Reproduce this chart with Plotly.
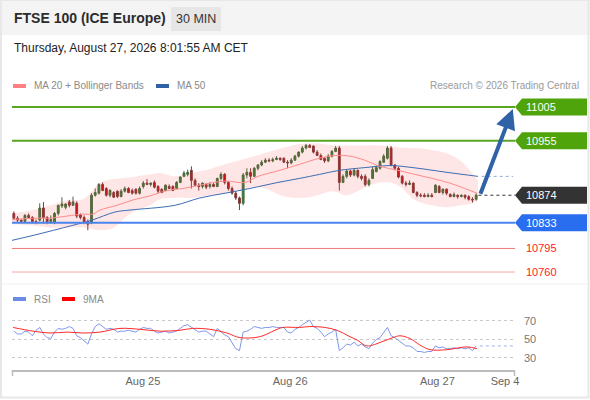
import plotly.graph_objects as go

# 30 min candles, index 0 = first bar on screen
opens = [10847, 10840, 10837, 10835, 10844, 10841, 10835, 10837, 10855, 10841,
         10835, 10834, 10847, 10858, 10856, 10864, 10859, 10862, 10845, 10841,
         10835, 10834, 10874, 10877, 10890, 10884, 10874, 10878, 10880, 10872,
         10880, 10884, 10881, 10883, 10877, 10887, 10892, 10890, 10893, 10887,
         10883, 10881, 10887, 10887, 10884, 10893, 10902, 10905, 10911, 10896,
         10889, 10887, 10890, 10887, 10890, 10887, 10899, 10905, 10893, 10884,
         10877, 10870, 10862, 10904, 10908, 10902, 10914, 10919, 10923, 10926,
         10925, 10927, 10929, 10929, 10923, 10922, 10926, 10932, 10938, 10944,
         10948, 10947, 10938, 10933, 10929, 10925, 10932, 10939, 10944, 10893,
         10902, 10910, 10904, 10911, 10902, 10902, 10890, 10899, 10909, 10914,
         10923, 10929, 10944, 10919, 10914, 10902, 10892, 10890, 10892, 10878,
         10874, 10874, 10872, 10874, 10878, 10887, 10878, 10883, 10875, 10872,
         10874, 10872, 10874, 10872, 10868, 10868]
highs = [10850, 10843, 10838, 10846, 10847, 10843, 10838, 10862, 10864, 10843,
         10844, 10849, 10860, 10871, 10862, 10867, 10872, 10865, 10847, 10844,
         10838, 10877, 10884, 10892, 10893, 10886, 10883, 10880, 10881, 10883,
         10887, 10886, 10884, 10884, 10887, 10895, 10898, 10893, 10896, 10889,
         10884, 10890, 10890, 10889, 10895, 10902, 10910, 10912, 10917, 10899,
         10892, 10893, 10892, 10893, 10892, 10900, 10908, 10907, 10895, 10887,
         10880, 10872, 10907, 10914, 10914, 10916, 10920, 10926, 10929, 10929,
         10930, 10932, 10930, 10930, 10926, 10929, 10934, 10939, 10947, 10950,
         10950, 10948, 10941, 10936, 10930, 10935, 10941, 10947, 10947, 10905,
         10912, 10912, 10914, 10912, 10905, 10905, 10899, 10916, 10918, 10926,
         10935, 10947, 10947, 10920, 10916, 10904, 10895, 10896, 10893, 10880,
         10877, 10877, 10877, 10877, 10890, 10889, 10884, 10884, 10877, 10878,
         10875, 10875, 10875, 10874, 10871, 10877]
lows = [10837, 10834, 10834, 10834, 10840, 10832, 10831, 10835, 10832, 10831,
        10832, 10831, 10844, 10855, 10853, 10856, 10858, 10840, 10838, 10831,
        10822, 10831, 10872, 10875, 10880, 10872, 10871, 10870, 10870, 10871,
        10878, 10877, 10875, 10875, 10875, 10884, 10889, 10887, 10884, 10877,
        10877, 10880, 10883, 10880, 10883, 10892, 10901, 10902, 10884, 10887,
        10881, 10884, 10883, 10884, 10886, 10886, 10896, 10890, 10881, 10875,
        10867, 10852, 10859, 10899, 10892, 10901, 10911, 10917, 10922, 10923,
        10923, 10926, 10925, 10922, 10914, 10920, 10925, 10930, 10936, 10942,
        10944, 10936, 10932, 10926, 10922, 10923, 10930, 10938, 10881, 10892,
        10899, 10901, 10902, 10899, 10896, 10887, 10887, 10898, 10908, 10912,
        10922, 10927, 10917, 10911, 10899, 10890, 10887, 10889, 10877, 10871,
        10871, 10871, 10871, 10871, 10877, 10877, 10875, 10874, 10871, 10871,
        10869, 10871, 10868, 10866, 10863, 10866]
closes = [10840, 10837, 10835, 10844, 10841, 10835, 10834, 10855, 10841, 10834,
          10838, 10847, 10859, 10861, 10861, 10859, 10864, 10843, 10841, 10834,
          10831, 10874, 10878, 10890, 10881, 10874, 10881, 10871, 10872, 10880,
          10884, 10878, 10877, 10877, 10884, 10892, 10890, 10892, 10886, 10880,
          10878, 10889, 10884, 10881, 10893, 10901, 10907, 10908, 10896, 10889,
          10887, 10892, 10886, 10890, 10887, 10899, 10905, 10893, 10884, 10877,
          10870, 10862, 10904, 10908, 10902, 10914, 10919, 10923, 10926, 10925,
          10927, 10929, 10927, 10923, 10922, 10926, 10932, 10938, 10944, 10948,
          10945, 10938, 10933, 10927, 10925, 10932, 10939, 10944, 10893, 10902,
          10910, 10904, 10911, 10902, 10899, 10890, 10896, 10912, 10915, 10924,
          10932, 10944, 10919, 10914, 10901, 10892, 10890, 10892, 10878, 10874,
          10873, 10872, 10874, 10872, 10889, 10878, 10883, 10877, 10872, 10875,
          10872, 10874, 10871, 10868, 10867, 10874]
bars = list(range(len(closes)))

# Bollinger bands (sampled along the bar index)
band_x = [-0.5, 5.2, 9.8, 14.4, 18.7, 23.3, 26.8, 28.7, 32.2, 36.8, 39.5, 43.5, 47.6,
          51.7, 56.5, 61.1, 65.7, 69.2, 72.7, 77.3, 81.4, 86.3, 90.0, 94.4, 98.1,
          101.7, 104.4, 108.4, 113.0, 117.1, 120.6, 123.3, 125.5]
band_upper = [10847, 10852, 10859, 10867, 10868, 10892, 10898, 10899, 10901, 10905, 10907,
              10902, 10907, 10911, 10919, 10926, 10933, 10939, 10944, 10950, 10951, 10948,
              10948, 10948, 10948, 10947, 10945, 10944, 10941, 10936, 10926, 10911, 10896]
band_lower = [10831, 10829, 10826, 10826, 10826, 10822, 10825, 10834, 10849, 10859, 10868,
              10870, 10870, 10873, 10877, 10881, 10887, 10881, 10873, 10870, 10873, 10880,
              10874, 10884, 10892, 10893, 10887, 10867, 10859, 10856, 10859, 10861, 10867]

ma20_x = [-0.5, 6.5, 9.8, 18.7, 21.4, 23.3, 27.9, 32.2, 36.8, 41.4, 45.7, 50.3, 57.1,
          62.5, 66.0, 71.9, 77.3, 82.7, 86.8, 90.9, 94.9, 98.9, 103.8, 108.4, 113.0,
          117.9, 121.9, 125.2]
ma20 = [10838, 10840, 10840, 10846, 10846, 10852, 10859, 10867, 10873, 10881, 10884,
        10889, 10895, 10893, 10902, 10911, 10920, 10929, 10933, 10932, 10926, 10917,
        10911, 10905, 10899, 10892, 10884, 10877]

ma50_x = [-0.5, 5.7, 15.7, 21.1, 27.3, 31.4, 43.5, 50.3, 57.1, 63.8, 71.4, 77.3, 82.7,
          88.1, 94.9, 101.7, 107.9, 117.1, 125.5]
ma50 = [10807, 10815, 10829, 10837, 10849, 10852, 10859, 10870, 10877, 10884, 10893,
        10899, 10905, 10911, 10915, 10918, 10915, 10908, 10902]

# RSI panel
rsi = [59, 56, 56, 59, 58, 54, 60, 63, 56, 52, 51, 58, 62, 61, 62, 64, 62, 54, 52, 49,
       45, 56, 64, 67, 64, 61, 62, 61, 58, 59, 59, 60, 59, 58, 61, 63, 62, 62, 59, 57,
       58, 59, 57, 58, 59, 62, 65, 66, 63, 60, 58, 59, 59, 56, 53, 62, 58, 55, 53, 47,
       40, 38, 58, 59, 61, 64, 63, 62, 63, 63, 64, 63, 63, 63, 58, 57, 61, 63, 66, 69,
       71, 64, 62, 58, 53, 56, 58, 61, 38, 41, 45, 44, 47, 43, 45, 42, 40, 46, 50, 52,
       57, 63, 54, 52, 49, 46, 43, 43, 41, 37, 37, 36, 37, 37, 43, 41, 42, 40, 40, 41,
       40, 41, 40, 41, 38, 43]
ma9_x = [-0.2, 5.2, 9.8, 14.4, 18.7, 23.3, 28.7, 34.1, 39.5, 44.9, 48.4, 53.0, 57.6,
         61.1, 66.5, 70.6, 72.7, 77.3, 80.0, 84.1, 87.3, 90.9, 93.0, 95.4, 99.8, 102.5,
         104.4, 107.1, 109.8, 112.5, 117.1, 122.5, 125.2]
ma9 = [63, 59, 57, 58, 57, 58, 62, 61, 59, 60, 62, 61, 57, 52, 53, 60, 63, 63, 64, 63,
       60, 53, 49, 43, 48, 52, 54, 51, 44, 39, 39, 42, 40]

# key levels
resistances = [11005, 10955]
supports = [10833]
pivot = 10874
extra_levels = [10795, 10760]

tick_pos = [34.9, 74.7, 114.5, 132.8]
tick_text = ["Aug 25", "Aug 26", "Aug 27", "Sep 4"]

W, H = 590, 400
L, R = 12, 515
PRICE_TOP, PRICE_BOTTOM = 95, 283
RSI_TOP, RSI_BOTTOM = 300, 370
PRICE_RANGE = [10743.7, 11022.8]
RSI_RANGE = [17.0, 92.7]

GREEN = "#4ea40a"
BLUE = "#2a6ef0"
RED = "#ff1a1a"
GREY = "#8a8a8a"
FONT = "Liberation Sans, Arial, sans-serif"


def px(x):
    return (x - L) / (R - L)


def py(y):
    return (H - y) / H


fig = go.Figure()

# bollinger band fill
fig.add_trace(go.Scatter(x=band_x, y=band_upper, mode="lines", line=dict(width=0, shape="spline"),
                         hoverinfo="skip", showlegend=False))
fig.add_trace(go.Scatter(x=band_x, y=band_lower, mode="lines", line=dict(width=0, shape="spline"),
                         fill="tonexty", fillcolor="rgba(255,60,60,0.13)", hoverinfo="skip",
                         showlegend=False))

fig.add_trace(go.Scatter(x=ma50_x, y=ma50, mode="lines",
                         line=dict(color="#3d6cb3", width=1, shape="spline"), showlegend=False))
fig.add_trace(go.Scatter(x=ma20_x, y=ma20, mode="lines",
                         line=dict(color="#ff8a8a", width=1, shape="spline"), showlegend=False))

fig.add_trace(go.Candlestick(
    x=bars, open=opens, high=highs, low=lows, close=closes,
    increasing=dict(line=dict(color="#3d6b3d", width=1), fillcolor="#2a8a2a"),
    decreasing=dict(line=dict(color="#7a3b3b", width=1), fillcolor="#e00000"),
    whiskerwidth=0, showlegend=False, hoverinfo="skip",
))

# RSI + 9MA
fig.add_trace(go.Scatter(x=bars, y=rsi, mode="lines", yaxis="y2",
                         line=dict(color="#7e97ec", width=1), showlegend=False))
fig.add_trace(go.Scatter(x=ma9_x, y=ma9, mode="lines", yaxis="y2",
                         line=dict(color="#ff2a2a", width=1, shape="spline"), showlegend=False))

shapes = []
annotations = []

# header band, frame, panel separator
shapes.append(dict(type="rect", xref="paper", yref="paper", x0=px(0), x1=px(590), y0=py(35), y1=py(0),
                   fillcolor="#f4f4f4", line=dict(width=0), layer="below"))
shapes.append(dict(type="rect", xref="paper", yref="paper", x0=px(171), x1=px(221), y0=py(31), y1=py(7),
                   fillcolor="#e6e6e6", line=dict(width=0), layer="below"))
shapes.append(dict(type="rect", xref="paper", yref="paper", x0=px(1), x1=px(588.5), y0=py(397.5), y1=py(0),
                   line=dict(color="#e8e8e8", width=2), layer="above"))
shapes.append(dict(type="line", xref="paper", yref="paper", x0=px(2), x1=px(588), y0=py(284), y1=py(284),
                   line=dict(color="#f0f0f0", width=1)))

# level lines with tags
tag_h = 8.5 * (PRICE_RANGE[1] - PRICE_RANGE[0]) / (PRICE_BOTTOM - PRICE_TOP)


def tag(level, color):
    shapes.append(dict(type="path", xref="paper", yref="y",
                       path=(f"M 1,{level} L {px(522)},{level + tag_h} L {px(587)},{level + tag_h} "
                             f"L {px(587)},{level - tag_h} L {px(522)},{level - tag_h} Z"),
                       fillcolor=color, line=dict(width=0)))
    annotations.append(dict(xref="paper", yref="y", x=px(524), y=level, text=str(level),
                            showarrow=False, xanchor="left", yanchor="middle",
                            font=dict(color="white", size=11, family=FONT)))


for lvl in resistances:
    shapes.append(dict(type="line", xref="paper", yref="y", x0=0, x1=1, y0=lvl, y1=lvl,
                       line=dict(color="#5aa624", width=2)))
    tag(lvl, GREEN)
for lvl in supports:
    shapes.append(dict(type="line", xref="paper", yref="y", x0=0, x1=1, y0=lvl, y1=lvl,
                       line=dict(color="#4a84ec", width=2)))
    tag(lvl, BLUE)

shapes.append(dict(type="line", xref="x", yref="y", x0=bars[-1] + 0.6, x1=135.5, y0=pivot, y1=pivot,
                   line=dict(color="#333333", width=1, dash="dot")))
tag(pivot, "#333333")

for lvl, col in zip(extra_levels, ["#f07a7a", "#f6a8a8"]):
    shapes.append(dict(type="line", xref="paper", yref="y", x0=0, x1=1, y0=lvl, y1=lvl,
                       line=dict(color=col, width=1)))
    annotations.append(dict(xref="paper", yref="y", x=px(524), y=lvl, text=str(lvl), showarrow=False,
                            xanchor="left", yanchor="middle", font=dict(color=RED, size=11, family=FONT)))

# MA50 projection
shapes.append(dict(type="line", xref="x", yref="y", x0=ma50_x[-1] + 1, x1=135, y0=ma50[-1], y1=ma50[-1],
                   line=dict(color="#8fa8d8", width=1, dash="dot")))
# RSI projection
shapes.append(dict(type="line", xref="x", yref="y2", x0=bars[-1] + 1, x1=135.5, y0=rsi[-1], y1=rsi[-1],
                   line=dict(color="#9fb2ee", width=1, dash="dot")))

# target arrow
annotations.append(dict(x=134.9, y=resistances[0] - 3, ax=bars[-1] + 1, ay=closes[-1], xref="x", yref="y",
                        axref="x", ayref="y", text="", showarrow=True, arrowhead=2, arrowsize=1,
                        arrowwidth=4, arrowcolor="#2f62a6"))

# x-axis end ticks
for xe in [L + 0.5, R - 0.5]:
    shapes.append(dict(type="line", xref="paper", yref="paper", x0=px(xe), x1=px(xe), y0=py(370), y1=py(376),
                       line=dict(color="#bbbbbb", width=1.5)))

# header texts
annotations.append(dict(xref="paper", yref="paper", x=px(12), y=py(18), text="<b>FTSE 100 (ICE Europe)</b>",
                        showarrow=False, xanchor="left", yanchor="middle",
                        font=dict(size=14, color="#2b2b2b", family=FONT)))
annotations.append(dict(xref="paper", yref="paper", x=px(196), y=py(19), text="30 MIN",
                        showarrow=False, xanchor="center", yanchor="middle",
                        font=dict(size=12.5, color="#333333", family=FONT)))
annotations.append(dict(xref="paper", yref="paper", x=px(12), y=py(48),
                        text="Thursday, August 27, 2026 8:01:55 AM CET",
                        showarrow=False, xanchor="left", yanchor="middle",
                        font=dict(size=12, color="#222222", family=FONT)))

# legends
legend_items = [(13, 86, "#ff8080", "MA 20 + Bollinger Bands"), (156, 86, "#3061a5", "MA 50"),
                (13, 299, "#6a8be8", "RSI"), (62, 299, "#ff0000", "9MA")]
for x0, yy, col, txt in legend_items:
    shapes.append(dict(type="rect", xref="paper", yref="paper", x0=px(x0), x1=px(x0 + 13),
                       y0=py(yy + 2), y1=py(yy - 2), fillcolor=col, line=dict(width=0)))
    annotations.append(dict(xref="paper", yref="paper", x=px(x0 + 19), y=py(yy), text=txt,
                            showarrow=False, xanchor="left", yanchor="middle",
                            font=dict(size=10, color=GREY, family=FONT)))
annotations.append(dict(xref="paper", yref="paper", x=px(581), y=py(86),
                        text="Research © 2026 Trading Central", showarrow=False, xanchor="right",
                        yanchor="middle", font=dict(size=10, color="#9a9a9a", family=FONT)))

fig.update_layout(
    width=W, height=H,
    margin=dict(l=L, r=W - R, t=0, b=0),
    paper_bgcolor="white", plot_bgcolor="rgba(0,0,0,0)",
    showlegend=False,
    shapes=shapes, annotations=annotations,
    xaxis=dict(range=[-0.5, 135.5], anchor="y2", showgrid=False, zeroline=False,
               showline=True, linecolor="#bbbbbb", linewidth=2, ticks="",
               tickvals=tick_pos, ticktext=tick_text, automargin=False,
               tickfont=dict(size=11, color="#666666", family=FONT),
               rangeslider=dict(visible=False)),
    yaxis=dict(domain=[py(PRICE_BOTTOM), py(PRICE_TOP)], range=PRICE_RANGE, visible=False,
               showgrid=False, zeroline=False),
    yaxis2=dict(domain=[py(RSI_BOTTOM), py(RSI_TOP)], range=RSI_RANGE, side="right",
                tickvals=[30, 50, 70], showgrid=True, gridcolor="#c8c8c8", griddash="dot",
                gridwidth=1, zeroline=False, ticks="", automargin=False, ticklabelstandoff=8,
                tickfont=dict(size=11, color="#777777", family=FONT)),
)

# page body has a default 8px margin; drop it so the figure sits at the window origin
fig.write_html("out.html", config={"displayModeBar": False},
               post_script="document.body.style.margin = '0';")
